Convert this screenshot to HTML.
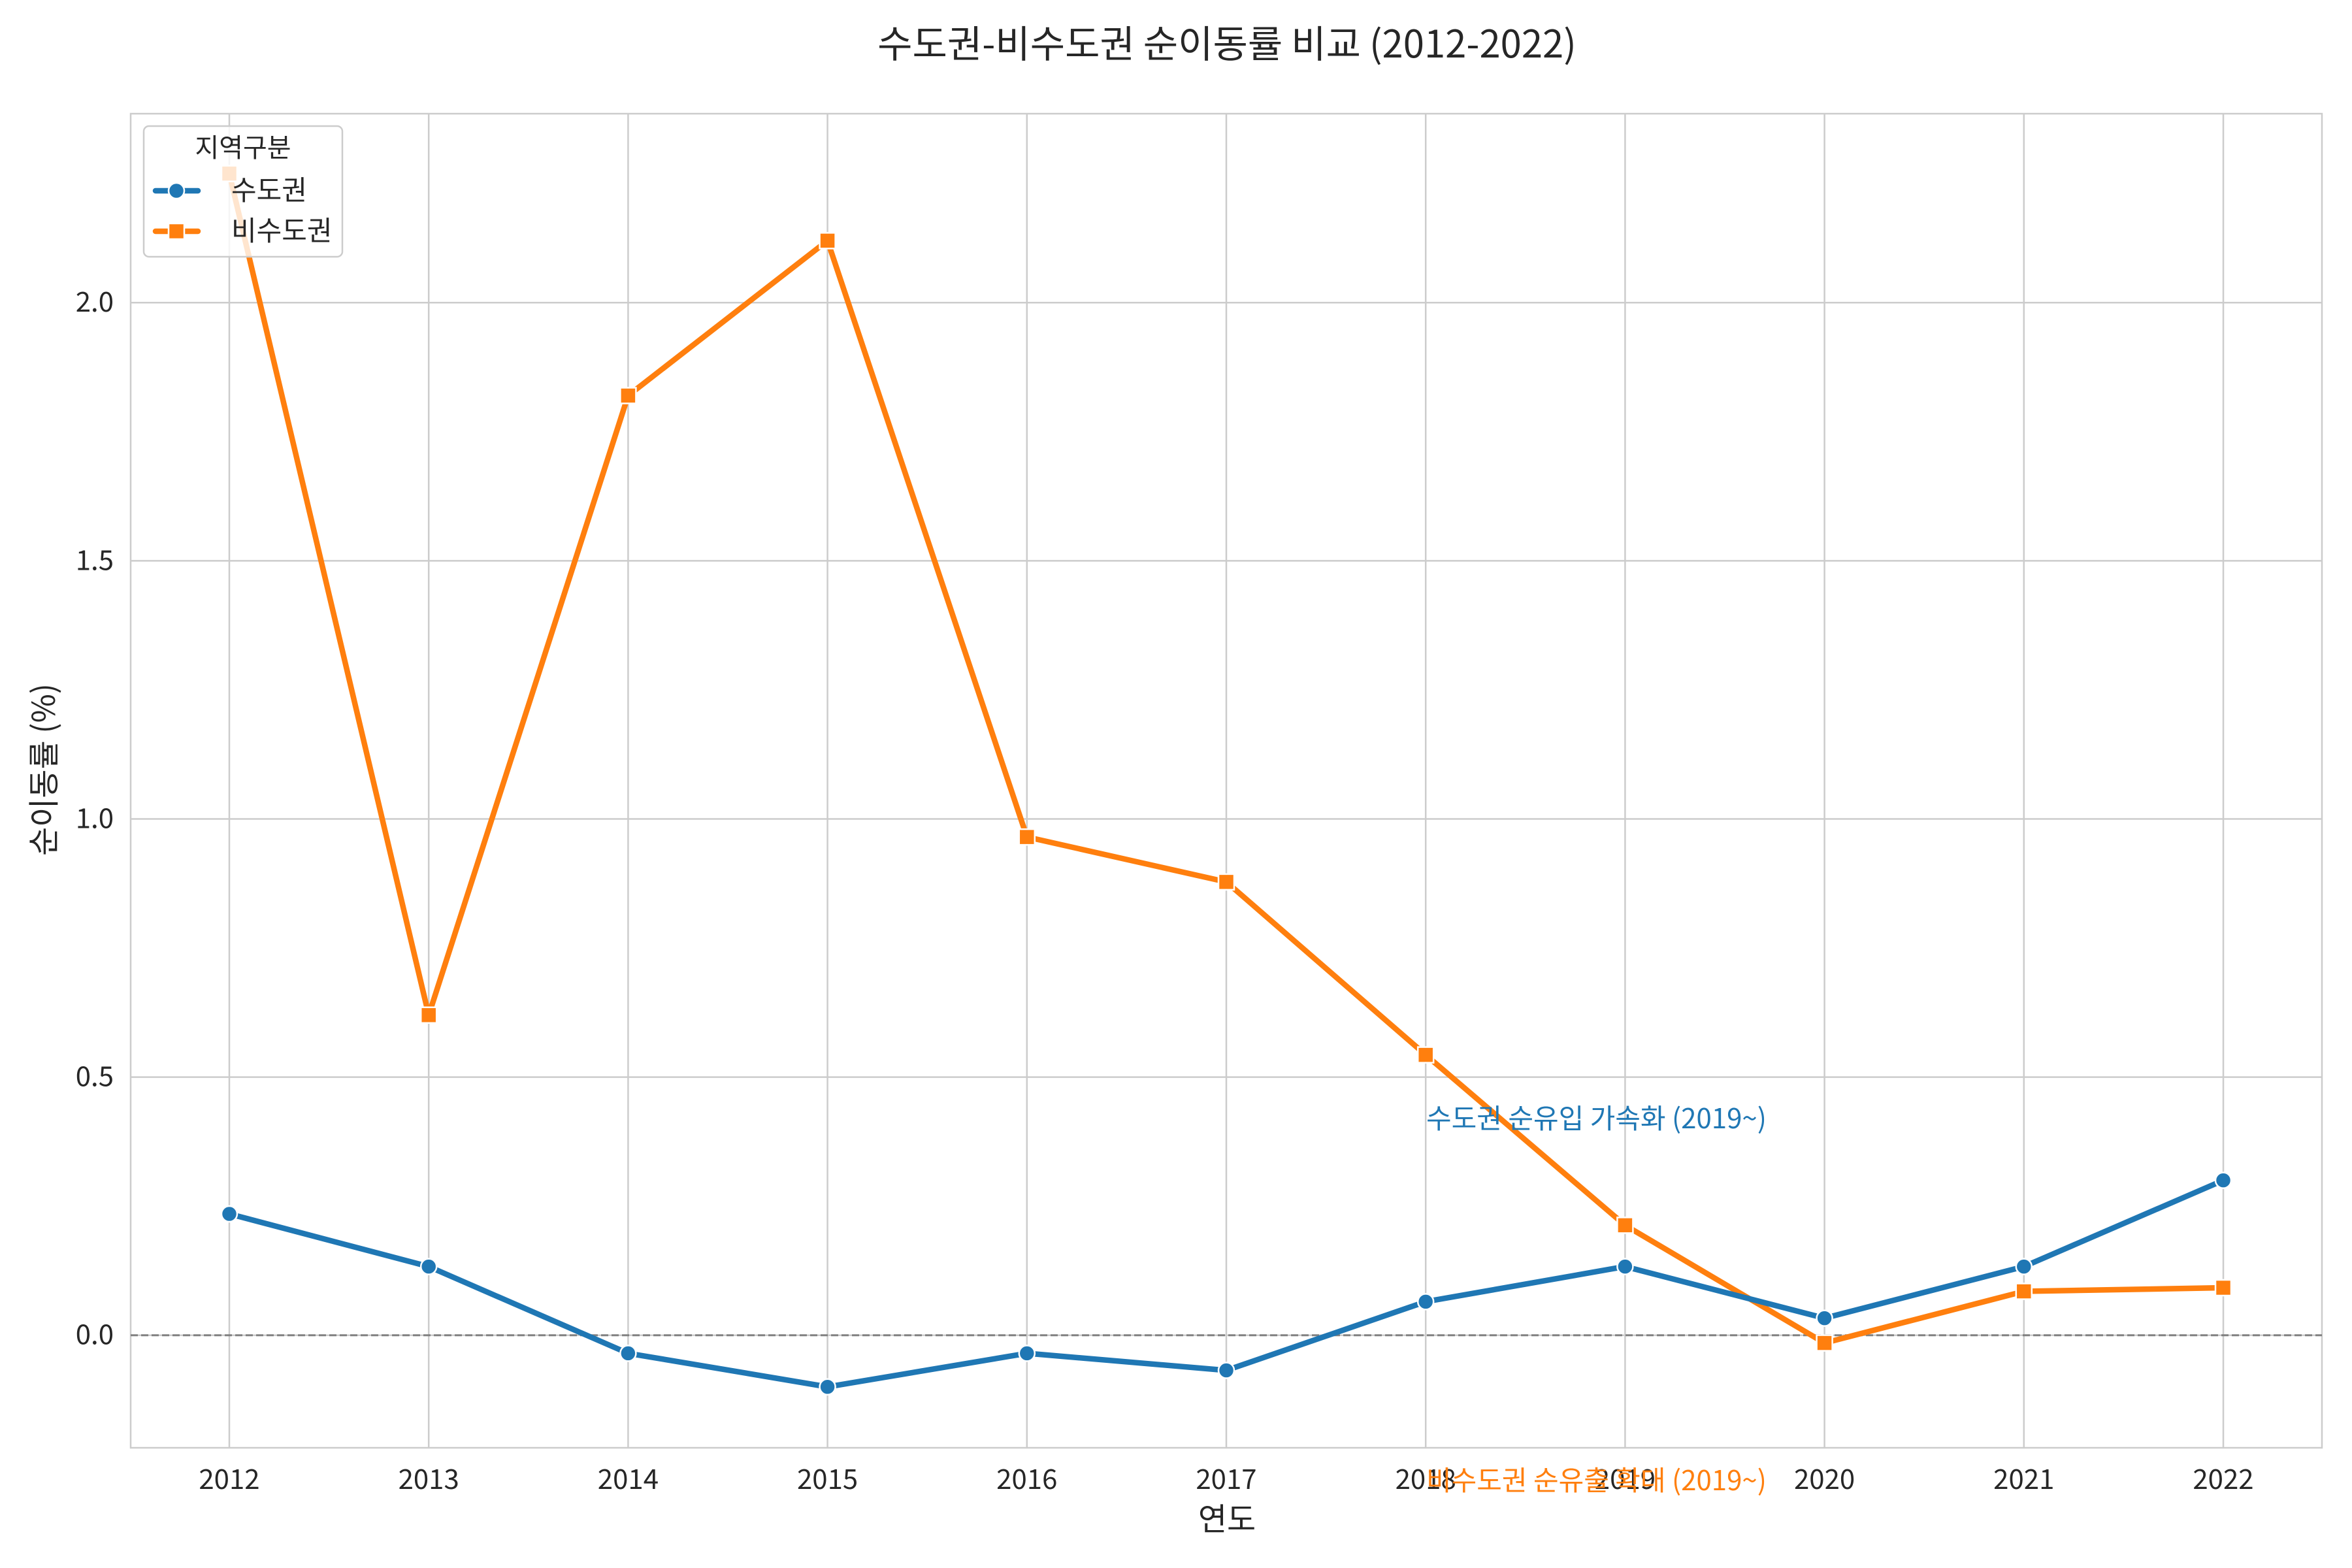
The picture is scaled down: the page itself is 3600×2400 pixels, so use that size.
<!DOCTYPE html>
<html><head><meta charset="utf-8"><style>
body{margin:0;background:#fff}
svg{display:block;font-family:"Noto Sans CJK KR","Liberation Sans",sans-serif}
</style></head><body>
<svg id="chart" width="3600" height="2400" viewBox="0 0 3600 2400">
<rect width="3600" height="2400" fill="#fff"/>
<g id="grid"></g>
<g id="series"></g>
<g id="labels"></g>
</svg>
<script>
const years = [2012,2013,2014,2015,2016,2017,2018,2019,2020,2021,2022];
const capital = [0.235,0.133,-0.035,-0.10,-0.035,-0.068,0.065,0.133,0.033,0.133,0.30];
const nonCapital = [2.25,0.62,1.82,2.12,0.965,0.878,0.543,0.213,-0.015,0.085,0.092];
const yTicks = [0.0,0.5,1.0,1.5,2.0];
const yTickLabels = ["0.0","0.5","1.0","1.5","2.0"];

const L=200,R=3554,T=174,B=2216;
const x0=351,x1=3403;
const yMin=-0.218,yMax=2.366;
function xs(i){return x0+(x1-x0)*i/(years.length-1);}
function ys(v){return B-(v-yMin)/(yMax-yMin)*(B-T);}
const NS="http://www.w3.org/2000/svg";
function mk(tag,attrs,parent,text){const e=document.createElementNS(NS,tag);for(const k in attrs)e.setAttribute(k,attrs[k]);if(text!==undefined)e.textContent=text;parent.appendChild(e);return e;}
const grid=document.getElementById('grid'),series=document.getElementById('series'),labels=document.getElementById('labels');

years.forEach((yr,i)=>{
  const g=mk('line',{x1:xs(i),x2:xs(i),y1:T,y2:B,stroke:'#cccccc','stroke-width':2.5},grid);
  
  
  const t=mk('text',{x:xs(i),y:2279,'text-anchor':'middle','font-size':42,fill:'#262626'},labels,String(yr));
  
  
});
yTicks.forEach((v,i)=>{
  const g=mk('line',{x1:L,x2:R,y1:ys(v),y2:ys(v),stroke:'#cccccc','stroke-width':2.5},grid);
  
  
  const t=mk('text',{x:174,y:ys(v)+14,'text-anchor':'end','font-size':42,fill:'#262626'},labels,yTickLabels[i]);
  
  
});
const frame=mk('rect',{x:L,y:T,width:R-L,height:B-T,fill:'none',stroke:'#cccccc','stroke-width':2.5},grid);


const zl=mk('line',{x1:L,x2:R,y1:ys(0),y2:ys(0),stroke:'#808080','stroke-width':3,'stroke-dasharray':'11,5'},grid);



function drawLine(vals,color,name,marker){
  const pts=vals.map((v,i)=>xs(i)+','+ys(v)).join(' ');
  const p=mk('polyline',{points:pts,fill:'none',stroke:color,'stroke-width':8.5,'stroke-linejoin':'round','stroke-linecap':'round'},series);
  
  
  vals.forEach((v,i)=>{
    let m;
    if(marker==='circle') m=mk('circle',{cx:xs(i),cy:ys(v),r:12,fill:color,stroke:'#fff','stroke-width':2.5},series);
    else m=mk('rect',{x:xs(i)-12,y:ys(v)-12,width:24,height:24,fill:color,stroke:'#fff','stroke-width':2.5},series);
    
    
  });
}
drawLine(nonCapital,'#ff7f0e','non-capital','square');
drawLine(capital,'#1f77b4','capital','circle');
</script>
<svg width="3600" height="2400" style="position:absolute;left:0;top:0">
<g font-family="'Noto Sans CJK KR','Liberation Sans',sans-serif">
<text x="1878" y="88" text-anchor="middle" font-size="58" fill="#262626">수도권-비수도권 순이동률 비교 (2012-2022)</text>
<text x="1878" y="2342" text-anchor="middle" font-size="48" fill="#262626">연도</text>
<text transform="translate(84,1178) rotate(-90)" text-anchor="middle" font-size="48" fill="#262626">순이동률 (%)</text>
<text x="2183" y="1727" font-size="42" fill="#1f77b4">수도권 순유입 가속화 (2019~)</text>
<text x="2183" y="2281" font-size="42" fill="#ff7f0e">비수도권 순유출 확대 (2019~)</text>
<g>
<rect x="220" y="193" width="304" height="200" rx="8" fill="#ffffff" fill-opacity="0.8" stroke="#cccccc" stroke-width="2.5"/>
<text x="372" y="240" text-anchor="middle" font-size="40" fill="#262626">지역구분</text>
<g>
<line x1="238" y1="292" x2="303" y2="292" stroke="#1f77b4" stroke-width="8.5" stroke-linecap="round"/>
<circle cx="270" cy="292" r="12" fill="#1f77b4" stroke="#fff" stroke-width="2.5"/>
<text x="354" y="306" font-size="42" fill="#262626">수도권</text>
</g>
<g>
<line x1="238" y1="354" x2="303" y2="354" stroke="#ff7f0e" stroke-width="8.5" stroke-linecap="round"/>
<rect x="258" y="342" width="24" height="24" fill="#ff7f0e" stroke="#fff" stroke-width="2.5"/>
<text x="354" y="368" font-size="42" fill="#262626">비수도권</text>
</g>
</g>
</g>
</svg>
</body></html>
